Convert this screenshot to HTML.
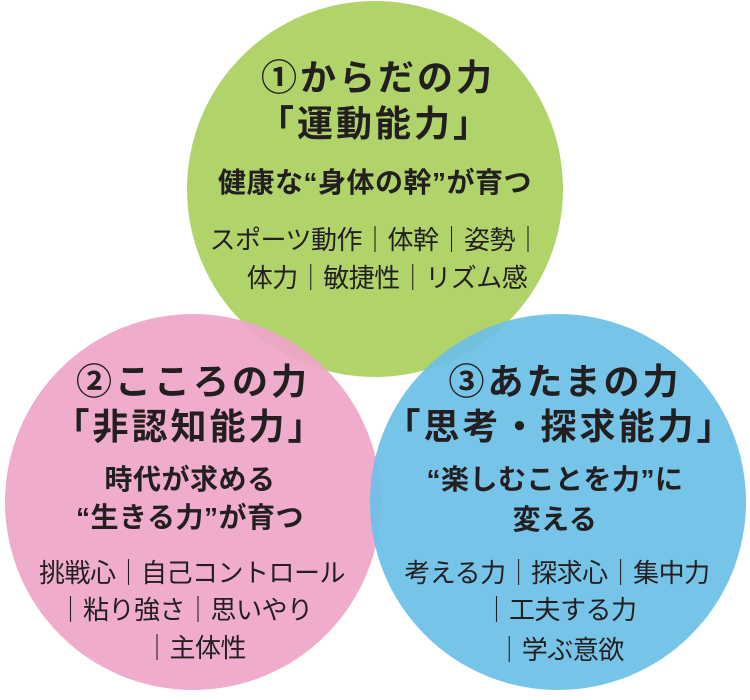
<!DOCTYPE html>
<html><head><meta charset="utf-8"><style>
body{margin:0;width:750px;height:700px;background:#fff;position:relative;overflow:hidden;font-family:"Liberation Sans","Noto Sans CJK JP",sans-serif;color:#231f20;font-weight:bold}
.c{position:absolute;border-radius:50%}
.t{position:absolute;white-space:nowrap;transform:translateX(-50%);text-align:center;line-height:1}
.h{font-size:36px;letter-spacing:3px}
.s{font-size:28px;letter-spacing:0.5px}
.b{font-size:26px;font-weight:normal;letter-spacing:-0.5px}
</style></head><body>
<div class="c" style="left:187px;top:1px;width:376px;height:376px;background:#b0d46a"></div>
<div class="c" style="left:5px;top:314px;width:376px;height:376px;background:#eea6c9;opacity:.93"></div>
<div class="c" style="left:370px;top:314px;width:376px;height:376px;background:#6cbfe6;opacity:.93"></div>

<div class="t h" style="left:378px;top:60px">①からだの力</div>
<div class="t h" style="left:375px;top:106px">「運動能力」</div>
<div class="t s" style="left:375px;top:169px">健康な“身体の幹”が育つ</div>
<div class="t b" style="left:375px;top:227px">スポーツ動作｜体幹｜姿勢｜</div>
<div class="t b" style="left:387px;top:265px">体力｜敏捷性｜リズム感</div>

<div class="t h" style="left:193px;top:364px">②こころの力</div>
<div class="t h" style="left:190px;top:409px">「非認知能力」</div>
<div class="t s" style="left:190px;top:466px">時代が求める</div>
<div class="t s" style="left:190px;top:504px">“生きる力”が育つ</div>
<div class="t b" style="left:192px;top:560px">挑戦心｜自己コントロール</div>
<div class="t b" style="left:185px;top:597px">｜粘り強さ｜思いやり</div>
<div class="t b" style="left:195px;top:635px">｜主体性</div>

<div class="t h" style="left:565px;top:364px">③あたまの力</div>
<div class="t h" style="left:560px;top:409px">「思考・探求能力」</div>
<div class="t s" style="left:555px;top:466px">“楽しむことを力”に</div>
<div class="t s" style="left:555px;top:506px">変える</div>
<div class="t b" style="left:557px;top:560px">考える力｜探求心｜集中力</div>
<div class="t b" style="left:560px;top:597px">｜工夫する力</div>
<div class="t b" style="left:560px;top:637px">｜学ぶ意欲</div>
</body></html>
